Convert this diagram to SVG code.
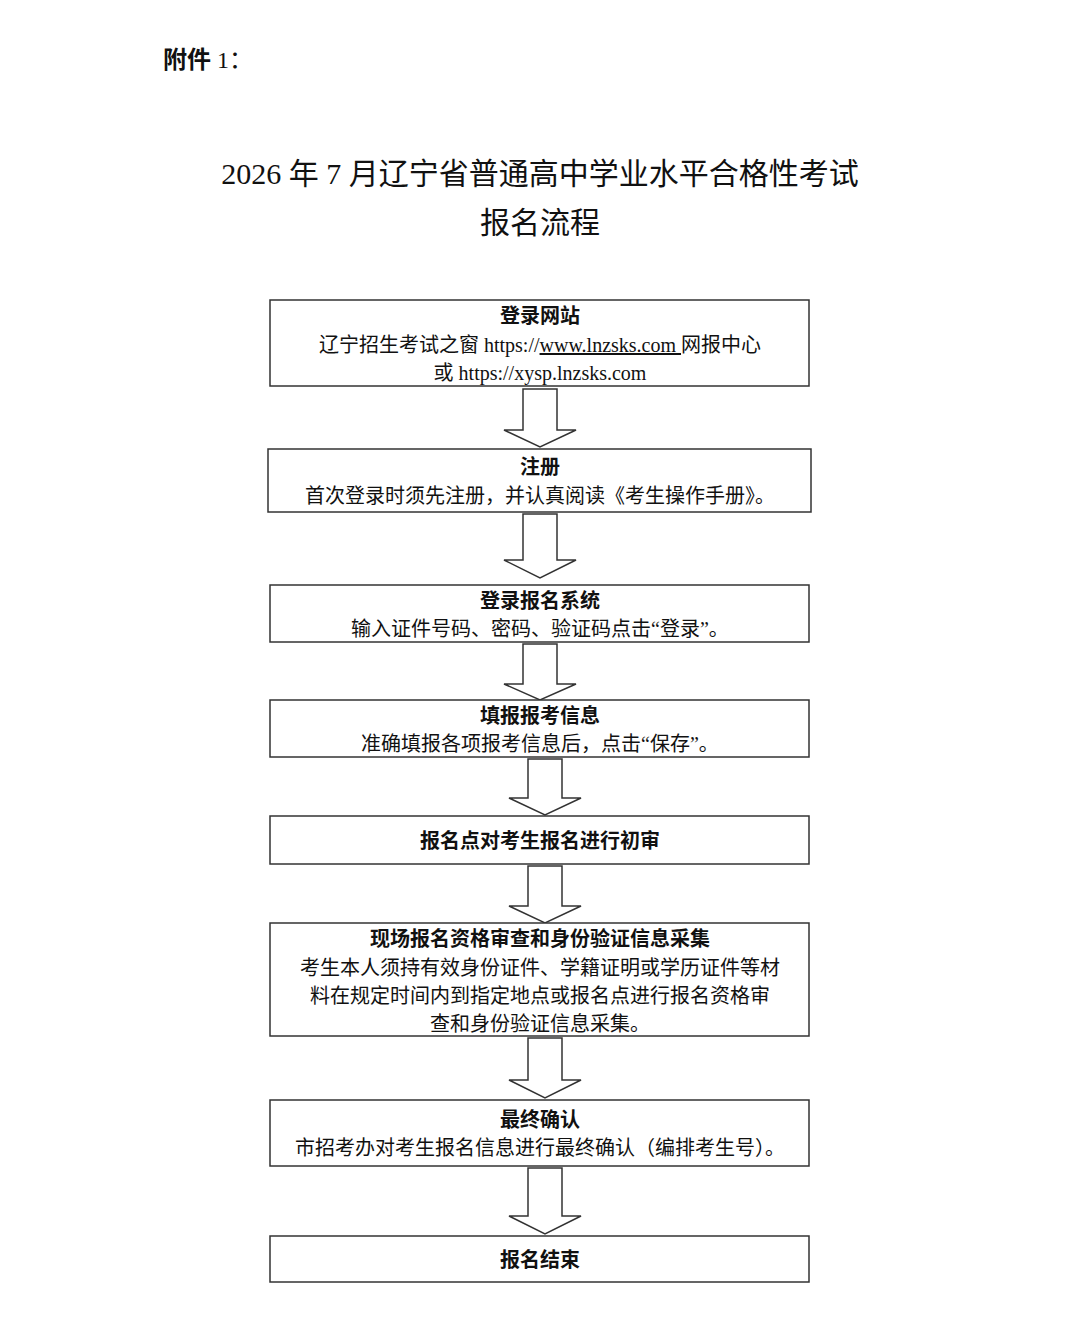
<svg xmlns="http://www.w3.org/2000/svg" width="1080" height="1323" viewBox="0 0 1080 1323">
<style>
.b{fill:#fff;stroke:#333;stroke-width:1.5}
.a{fill:#fff;stroke:#333;stroke-width:1.5}
text{font-family:"Liberation Serif","Noto Sans CJK SC",serif;fill:#111;text-anchor:middle}
.h{font-size:20px;font-weight:bold}
.t{font-size:20px}
</style>
<rect width="1080" height="1323" fill="#fff"/>
<text x="163" y="68" style="text-anchor:start;font-size:24px;font-weight:bold">附件 <tspan font-weight="normal">1：</tspan></text>
<text x="540" y="184" style="font-size:30px">2026 年 7 月辽宁省普通高中学业水平合格性考试</text>
<text x="540" y="233" style="font-size:30px">报名流程</text>
<g id="connectors">
<path class="a" d="M523 389H557V430H576L540 447L504 430H523Z"/>
<path class="a" d="M523 514H557V560H576L540 578L504 560H523Z"/>
<path class="a" d="M523 644H557V684H576L540 700L504 684H523Z"/>
<path class="a" d="M528 759H562V798H581L545 815L509 798H528Z"/>
<path class="a" d="M528 866H562V906H581L545 923L509 906H528Z"/>
<path class="a" d="M528 1038H562V1080H581L545 1098L509 1080H528Z"/>
<path class="a" d="M528 1168H562V1216H581L545 1234L509 1216H528Z"/>
</g>
<g id="n1"><rect class="b" x="270" y="300" width="539" height="86"/>
<text class="h" x="540" y="323">登录网站</text>
<text class="t" x="540" y="352">辽宁招生考试之窗 https://<tspan text-decoration="underline">www.lnzsks.com </tspan>网报中心</text>
<text class="t" x="540" y="380">或 https://xysp.lnzsks.com</text></g>
<g id="n2"><rect class="b" x="268" y="449" width="543" height="63"/>
<text class="h" x="540" y="474">注册</text>
<text class="t" x="540" y="503">首次登录时须先注册，并认真阅读《考生操作手册》。</text></g>
<g id="n3"><rect class="b" x="270" y="585" width="539" height="57"/>
<text class="h" x="540" y="608">登录报名系统</text>
<text class="t" x="540" y="636">输入证件号码、密码、验证码点击“登录”。</text></g>
<g id="n4"><rect class="b" x="270" y="700" width="539" height="57"/>
<text class="h" x="540" y="723">填报报考信息</text>
<text class="t" x="540" y="751">准确填报各项报考信息后，点击“保存”。</text></g>
<g id="n5"><rect class="b" x="270" y="816" width="539" height="48"/>
<text class="h" x="540" y="848">报名点对考生报名进行初审</text></g>
<g id="n6"><rect class="b" x="270" y="923" width="539" height="113"/>
<text class="h" x="540" y="946">现场报名资格审查和身份验证信息采集</text>
<text class="t" x="540" y="975">考生本人须持有效身份证件、学籍证明或学历证件等材</text>
<text class="t" x="540" y="1003">料在规定时间内到指定地点或报名点进行报名资格审</text>
<text class="t" x="540" y="1031">查和身份验证信息采集。</text></g>
<g id="n7"><rect class="b" x="270" y="1100" width="539" height="66"/>
<text class="h" x="540" y="1127">最终确认</text>
<text class="t" x="540" y="1155">市招考办对考生报名信息进行最终确认（编排考生号）。</text></g>
<g id="n8"><rect class="b" x="270" y="1236" width="539" height="46"/>
<text class="h" x="540" y="1267">报名结束</text></g>
</svg>
